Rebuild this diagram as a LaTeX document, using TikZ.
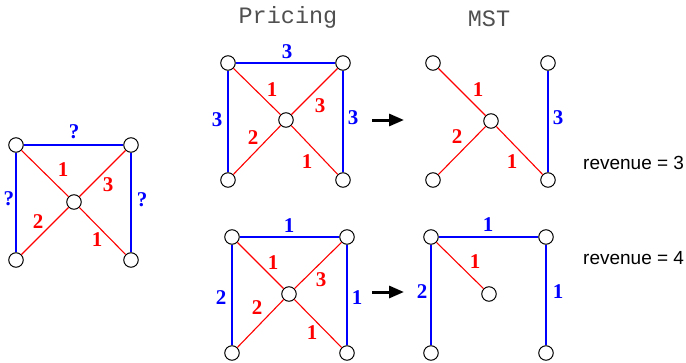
\documentclass[tikz,border=0pt]{standalone}
\usepackage{fontspec}
\setmainfont{Liberation Serif}
\newfontfamily\revfont{Liberation Sans}
\newfontfamily\headfont{Liberation Mono}
\usetikzlibrary{arrows.meta}

\definecolor{ered}{RGB}{255,0,0}
\definecolor{eblue}{RGB}{0,0,255}
\definecolor{headgray}{RGB}{80,80,80}

\tikzset{
  vtx/.style={circle,draw,fill=white,line width=1pt,minimum size=14.5pt,inner sep=0pt},
  redge/.style={ered,line width=1.1pt},
  bedge/.style={eblue,line width=1.1pt},
  rlab/.style={text=ered,font=\fontsize{21}{21}\selectfont\bfseries,inner sep=0pt},
  blab/.style={text=eblue,font=\fontsize{21}{21}\selectfont\bfseries,inner sep=0pt},
  headlab/.style={text=headgray,font=\headfont\fontsize{23.5}{23.5}\selectfont},
  revlab/.style={font=\revfont\fontsize{19}{19}\selectfont,anchor=west,inner sep=0pt},
  goes/.style={-{Triangle[length=15pt,width=12pt]},line width=3pt}
}

\begin{document}
\begin{tikzpicture}[x=1pt,y=-1pt]
  \useasboundingbox (0,0) rectangle (686,362);

  % column titles
  \node[headlab] (tprice) at (288,17) {Pricing};
  \node[headlab] (tmst)   at (489,19) {MST};

  % graph with unknown prices
  \node[vtx] (q1) at (16,145) {};   \node[vtx] (q2) at (131,145) {};
  \node[vtx] (q3) at (16,260) {};   \node[vtx] (q4) at (131,260) {};
  \node[vtx] (q5) at (74,202) {};
  \draw[bedge] (q1) -- (q2);  \draw[bedge] (q1) -- (q3);  \draw[bedge] (q2) -- (q4);
  \draw[redge] (q1) -- (q5);  \draw[redge] (q2) -- (q5);
  \draw[redge] (q3) -- (q5);  \draw[redge] (q4) -- (q5);
  \node[blab] at (74,132) {?};  \node[blab] at (9,199) {?};  \node[blab] at (142,200) {?};
  \node[rlab] at (63,170) {1};  \node[rlab] at (108,185) {3};
  \node[rlab] at (38,222) {2};  \node[rlab] at (97,240) {1};

  % first pricing
  \node[vtx] (a1) at (228,63) {};   \node[vtx] (a2) at (343,63) {};
  \node[vtx] (a3) at (228,180) {};  \node[vtx] (a4) at (343,180) {};
  \node[vtx] (a5) at (286,120) {};
  \draw[bedge] (a1) -- (a2);  \draw[bedge] (a1) -- (a3);  \draw[bedge] (a2) -- (a4);
  \draw[redge] (a1) -- (a5);  \draw[redge] (a2) -- (a5);
  \draw[redge] (a3) -- (a5);  \draw[redge] (a4) -- (a5);
  \node[blab] at (287,52) {3};  \node[blab] at (217,120) {3};  \node[blab] at (353,118) {3};
  \node[rlab] at (272,90) {1};  \node[rlab] at (320,106) {3};
  \node[rlab] at (253,138) {2};  \node[rlab] at (307,162) {1};

  % its MST
  \node[vtx] (b1) at (433,63) {};   \node[vtx] (b2) at (548,63) {};
  \node[vtx] (b3) at (433,180) {};  \node[vtx] (b4) at (548,180) {};
  \node[vtx] (b5) at (491,121) {};
  \draw[bedge] (b2) -- (b4);
  \draw[redge] (b1) -- (b5);  \draw[redge] (b3) -- (b5);  \draw[redge] (b4) -- (b5);
  \node[blab] at (558,118) {3};
  \node[rlab] at (478,90) {1};  \node[rlab] at (457,137) {2};  \node[rlab] at (512,162) {1};

  \coordinate (s1) at (372,120);  \coordinate (e1) at (404,120);
  \draw[goes] (s1) -- (e1);
  \node[revlab] (rev1) at (583,163) {revenue = 3};

  % second pricing
  \node[vtx] (c1) at (232,237) {};  \node[vtx] (c2) at (347,237) {};
  \node[vtx] (c3) at (232,353) {};  \node[vtx] (c4) at (347,353) {};
  \node[vtx] (c5) at (289,294) {};
  \draw[bedge] (c1) -- (c2);  \draw[bedge] (c1) -- (c3);  \draw[bedge] (c2) -- (c4);
  \draw[redge] (c1) -- (c5);  \draw[redge] (c2) -- (c5);
  \draw[redge] (c3) -- (c5);  \draw[redge] (c4) -- (c5);
  \node[blab] at (289,226) {1};  \node[blab] at (221,298) {2};  \node[blab] at (357,298) {1};
  \node[rlab] at (273,263) {1};  \node[rlab] at (321,280) {3};
  \node[rlab] at (257,308) {2};  \node[rlab] at (312,333) {1};

  % its MST
  \node[vtx] (d1) at (431,237) {};  \node[vtx] (d2) at (546,237) {};
  \node[vtx] (d3) at (431,353) {};  \node[vtx] (d4) at (546,353) {};
  \node[vtx] (d5) at (489,294) {};
  \draw[bedge] (d1) -- (d2);  \draw[bedge] (d1) -- (d3);  \draw[bedge] (d2) -- (d4);
  \draw[redge] (d1) -- (d5);
  \node[blab] at (488,225) {1};  \node[blab] at (422,292) {2};  \node[blab] at (558,292) {1};
  \node[rlab] at (475,262) {1};

  \coordinate (s2) at (372,292);  \coordinate (e2) at (404,292);
  \draw[goes] (s2) -- (e2);
  \node[revlab] (rev2) at (583,258) {revenue = 4};
\end{tikzpicture}
\end{document}
